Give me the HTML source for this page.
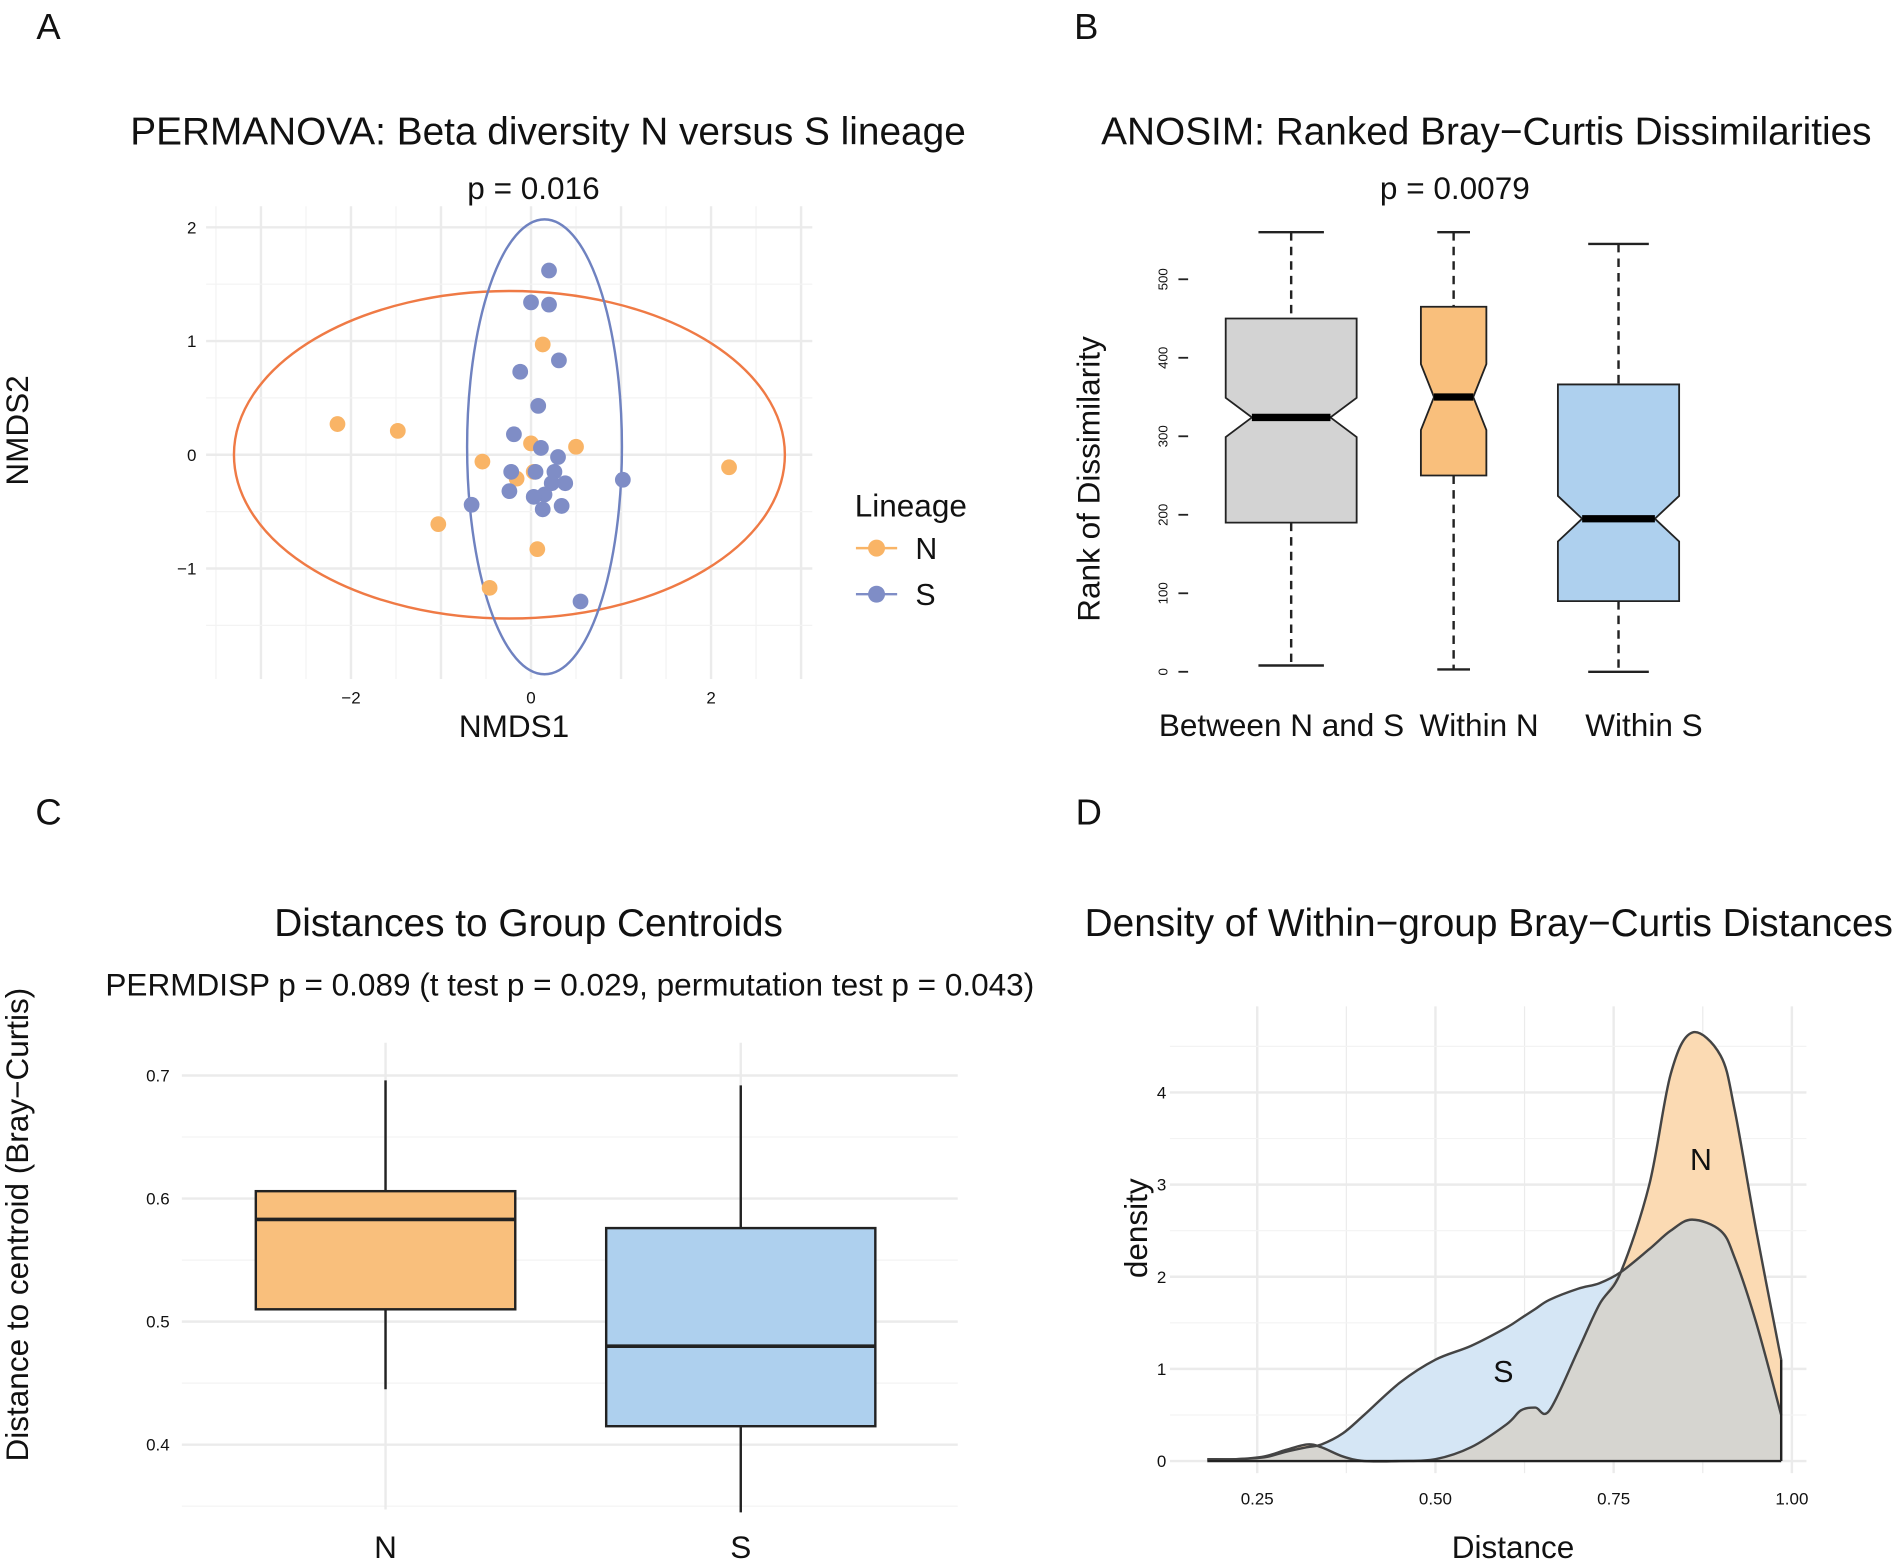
<!DOCTYPE html>
<html><head><meta charset="utf-8"><style>
html,body{margin:0;padding:0;background:#fff}
svg{display:block}
text{font-family:"Liberation Sans","DejaVu Sans",sans-serif;fill:#111}
</style></head><body>
<svg id="fig" width="1901" height="1563" viewBox="0 0 1568 1289" xmlns="http://www.w3.org/2000/svg">
<g id="A"></g>
<g id="B"></g>
<g id="C"></g>
<g id="D"></g>
</svg>
<script>
// ---- Panel A data ----
const nX=[-2.15,-1.48,-1.03,-0.54,-0.46,0,-0.16,0.07,0.13,0.5,2.2,0.03];
const nY=[0.27,0.21,-0.61,-0.06,-1.17,0.1,-0.21,-0.83,0.97,0.07,-0.11,-0.15];
const sX=[0.2,0,0.2,0.31,-0.12,0.08,-0.19,0.11,-0.22,0.05,0.26,0.3,0.23,0.38,-0.24,0.15,0.03,0.34,0.13,-0.66,1.02,0.55];
const sY=[1.62,1.34,1.32,0.83,0.73,0.43,0.18,0.06,-0.15,-0.15,-0.15,-0.02,-0.25,-0.25,-0.32,-0.35,-0.37,-0.45,-0.48,-0.44,-0.22,-1.29];
const aXTicks=[-2,0,2], aYTicks=[-1,0,1,2];
// ---- Panel B data ----
const bCats=["Between N and S","Within N","Within S"];
const bMin=[8,3,0], bQ1=[190,250,90], bMed=[324,350,195], bQ3=[450,465,366], bMax=[560,560,545];
const bNotch=[25,42,29];
const bTicks=[0,100,200,300,400,500];
// ---- Panel C data ----
const cCats=["N","S"];
const cMin=[0.445,0.345], cQ1=[0.51,0.415], cMed=[0.583,0.48], cQ3=[0.606,0.576], cMax=[0.696,0.692];
const cTicks=[0.4,0.5,0.6,0.7];
// ---- Panel D data ----
const dX=[0.18,0.22,0.26,0.29,0.32,0.34,0.37,0.40,0.45,0.5,0.55,0.6,0.62,0.64,0.66,0.7,0.73,0.76,0.8,0.83,0.86,0.9,0.92,0.95,0.985];
const dS=[0.02,0.02,0.04,0.1,0.15,0.18,0.3,0.5,0.85,1.1,1.25,1.45,1.55,1.65,1.75,1.87,1.93,2.05,2.3,2.5,2.62,2.5,2.2,1.5,0.5];
const dN=[0.02,0.02,0.05,0.12,0.18,0.15,0.05,0,0,0.02,0.15,0.4,0.55,0.58,0.55,1.2,1.7,2.05,3.0,4.2,4.65,4.4,3.8,2.5,1.1];
const dXTicks=[0.25,0.5,0.75,1.0], dYTicks=[0,1,2,3,4];

const NS="http://www.w3.org/2000/svg";
function el(p,tag,at,txt){const e=document.createElementNS(NS,tag);for(const k in at)e.setAttribute(k,at[k]);if(txt!==undefined)e.textContent=txt;p.appendChild(e);return e;}
const GRID="#ebebeb";
const TS=32, SS=26, LS=26;

// ===== Panel A =====
(function(){
const g=document.getElementById('A');
const x=v=>438+v*74.25, y=v=>375-v*93.8;
let t=el(g,'text',{x:40,y:32,'font-size':30,'text-anchor':'middle'},'A');

t=el(g,'text',{x:452,y:119,'font-size':TS,'text-anchor':'middle'},'PERMANOVA: Beta diversity N versus S lineage');

t=el(g,'text',{x:440,y:164,'font-size':SS,'text-anchor':'middle'},'p = 0.016');

for(let v=-3;v<=3;v+=1){el(g,'line',{x1:x(v),x2:x(v),y1:170,y2:560,stroke:GRID,'stroke-width':2});}
for(let v=-3;v<=3;v+=1){if(x(v-0.5)>170)el(g,'line',{x1:x(v-0.5),x2:x(v-0.5),y1:170,y2:560,stroke:'#f3f3f3','stroke-width':1});}
for(let v=-1.5;v<=2;v+=0.5){el(g,'line',{x1:170,x2:670,y1:y(v),y2:y(v),stroke:v%1===0?GRID:'#f3f3f3','stroke-width':v%1===0?2:1});}
aXTicks.forEach(v=>{const e=el(g,'text',{x:x(v),y:580,'font-size':14,'text-anchor':'middle',fill:'#444'},String(v).replace('-','−'));
});
aYTicks.forEach(v=>{const e=el(g,'text',{x:162,y:y(v)+5,'font-size':14,'text-anchor':'end',fill:'#444'},String(v).replace('-','−'));
});
t=el(g,'text',{x:424,y:608,'font-size':LS,'text-anchor':'middle'},'NMDS1');

t=el(g,'text',{x:0,y:0,'font-size':LS,'text-anchor':'middle',transform:'translate(23,355) rotate(-90)'},'NMDS2');

let e=el(g,'ellipse',{cx:x(-0.24),cy:y(0),rx:3.06*74.25,ry:1.44*93.8,fill:'none',stroke:'#ef7a45','stroke-width':2});

e=el(g,'ellipse',{cx:x(0.15),cy:y(0.07),rx:0.86*74.25,ry:2.0*93.8,fill:'none',stroke:'#6f82c0','stroke-width':2});

nX.forEach((v,i)=>{const c=el(g,'circle',{cx:x(v),cy:y(nY[i]),r:6.5,fill:'#f9b466'});
});
sX.forEach((v,i)=>{const c=el(g,'circle',{cx:x(v),cy:y(sY[i]),r:6.5,fill:'#7f8dc6'});
});
t=el(g,'text',{x:705,y:426,'font-size':26},'Lineage');

[['N','#f9b466','#f9b466',452],['S','#7f8dc6','#7f8dc6',490]].forEach(r=>{
const lg=el(g,'g',{});
el(lg,'line',{x1:706,x2:740,y1:r[3],y2:r[3],stroke:r[1],'stroke-width':2});
el(lg,'circle',{cx:723,cy:r[3],r:7,fill:r[2]});
el(lg,'text',{x:755,y:r[3]+9,'font-size':25},r[0]);});
})();

// ===== Panel B =====
(function(){
const g=document.getElementById('B');
const y=v=>554-v*0.6475; const cx=[1065,1199,1335], hw=[54,27,50];
let t=el(g,'text',{x:896,y:32,'font-size':30,'text-anchor':'middle'},'B');

t=el(g,'text',{x:1226,y:119,'font-size':TS,'text-anchor':'middle'},'ANOSIM: Ranked Bray−Curtis Dissimilarities');

t=el(g,'text',{x:1200,y:164,'font-size':SS,'text-anchor':'middle'},'p = 0.0079');

bTicks.forEach(v=>{el(g,'line',{x1:972,x2:980,y1:y(v),y2:y(v),stroke:'#222','stroke-width':1.5});
const e=el(g,'text',{x:0,y:0,'font-size':11,'text-anchor':'middle',fill:'#333',transform:`translate(963,${y(v)}) rotate(-90)`},String(v));
});
t=el(g,'text',{x:0,y:0,'font-size':LS,'text-anchor':'middle',transform:'translate(907,395) rotate(-90)'},'Rank of Dissimilarity');

const fills=['#d3d3d3','#f9bf7c','#aed0ee'];
bCats.forEach((c,i)=>{
const bg=el(g,'g',{});
const X=cx[i],w=hw[i];
const nh=bNotch[i]*0.6475, nw=w*0.6;
el(bg,'line',{x1:X,x2:X,y1:y(bMax[i]),y2:y(bQ3[i]),stroke:'#222','stroke-width':2,'stroke-dasharray':'7,5'});
el(bg,'line',{x1:X,x2:X,y1:y(bQ1[i]),y2:y(bMin[i]),stroke:'#222','stroke-width':2,'stroke-dasharray':'7,5'});
el(bg,'line',{x1:X-w/2,x2:X+w/2,y1:y(bMax[i]),y2:y(bMax[i]),stroke:'#222','stroke-width':2});
el(bg,'line',{x1:X-w/2,x2:X+w/2,y1:y(bMin[i]),y2:y(bMin[i]),stroke:'#222','stroke-width':2});
const m=y(bMed[i]);
const pts=[[X-w,y(bQ3[i])],[X+w,y(bQ3[i])],[X+w,m-nh],[X+nw,m],[X+w,m+nh],[X+w,y(bQ1[i])],[X-w,y(bQ1[i])],[X-w,m+nh],[X-nw,m],[X-w,m-nh]];
el(bg,'polygon',{points:pts.map(p=>p.join(',')).join(' '),fill:fills[i],stroke:'#222','stroke-width':1.5});
el(bg,'line',{x1:X-nw,x2:X+nw,y1:m,y2:m,stroke:'#000','stroke-width':6});
const lx=[1057,1220,1356][i];
const e=el(g,'text',{x:lx,y:607,'font-size':LS,'text-anchor':'middle'},c);

});
})();

// ===== Panel C =====
(function(){
const g=document.getElementById('C');
const y=v=>1090-(v-0.5)*1015; const cx=[318,611], hw=[107,111];
let t=el(g,'text',{x:40,y:680,'font-size':30,'text-anchor':'middle'},'C');

t=el(g,'text',{x:436,y:772,'font-size':TS,'text-anchor':'middle'},'Distances to Group Centroids');

t=el(g,'text',{x:470,y:821,'font-size':SS,'text-anchor':'middle'},'PERMDISP p = 0.089 (t test p = 0.029, permutation test p = 0.043)');

for(let v=0.35;v<=0.701;v+=0.05){const major=Math.abs(v*10-Math.round(v*10))<0.01;
el(g,'line',{x1:150,x2:790,y1:y(v),y2:y(v),stroke:major?GRID:'#f3f3f3','stroke-width':major?2:1});}
cx.forEach(X=>el(g,'line',{x1:X,x2:X,y1:860,y2:1245,stroke:GRID,'stroke-width':2}));
cTicks.forEach(v=>{const e=el(g,'text',{x:140,y:y(v)+5,'font-size':14,'text-anchor':'end',fill:'#444'},String(v));
});
t=el(g,'text',{x:0,y:0,'font-size':LS,'text-anchor':'middle',transform:'translate(23,1010) rotate(-90)'},'Distance to centroid (Bray−Curtis)');

const fills=['#f9bf7c','#aed0ee'];
cCats.forEach((c,i)=>{
const bg=el(g,'g',{});
const X=cx[i],w=hw[i];
el(bg,'line',{x1:X,x2:X,y1:y(cMax[i]),y2:y(cMin[i]),stroke:'#222','stroke-width':2});
el(bg,'rect',{x:X-w,y:y(cQ3[i]),width:2*w,height:y(cQ1[i])-y(cQ3[i]),fill:fills[i],stroke:'#222','stroke-width':2});
el(bg,'line',{x1:X-w,x2:X+w,y1:y(cMed[i]),y2:y(cMed[i]),stroke:'#222','stroke-width':3});
const e=el(g,'text',{x:X,y:1285,'font-size':LS,'text-anchor':'middle'},c);
});
})();

// ===== Panel D =====
(function(){
const g=document.getElementById('D');
const x=v=>1037+(v-0.25)*588, y=v=>1205-v*76;
let t=el(g,'text',{x:898,y:680,'font-size':30,'text-anchor':'middle'},'D');

t=el(g,'text',{x:1228,y:772,'font-size':TS,'text-anchor':'middle'},'Density of Within−group Bray−Curtis Distances');

for(let v=0.25;v<=1.001;v+=0.125){el(g,'line',{x1:x(v),x2:x(v),y1:830,y2:1215,stroke:GRID,'stroke-width':(Math.abs(v*4-Math.round(v*4))<0.01)?2:1});}
for(let v=0;v<=4.6;v+=0.5){el(g,'line',{x1:965,x2:1490,y1:y(v),y2:y(v),stroke:v%1===0?GRID:'#f3f3f3','stroke-width':v%1===0?2:1});}
dXTicks.forEach(v=>{const e=el(g,'text',{x:x(v),y:1241,'font-size':14,'text-anchor':'middle',fill:'#444'},v.toFixed(2));
});
dYTicks.forEach(v=>{const e=el(g,'text',{x:962,y:y(v)+5,'font-size':14,'text-anchor':'end',fill:'#444'},String(v));
});
t=el(g,'text',{x:1248,y:1285,'font-size':LS,'text-anchor':'middle'},'Distance');

t=el(g,'text',{x:0,y:0,'font-size':LS,'text-anchor':'middle',transform:'translate(946,1013) rotate(-90)'},'density');

function curve(ys){const p=dX.map((v,i)=>[x(v),y(ys[i])]);let d='M'+p[0].join(',');
for(let i=0;i<p.length-1;i++){const p0=p[Math.max(0,i-1)],p1=p[i],p2=p[i+1],p3=p[Math.min(p.length-1,i+2)];
const c1=[p1[0]+(p2[0]-p0[0])/6,p1[1]+(p2[1]-p0[1])/6],c2=[p2[0]-(p3[0]-p1[0])/6,p2[1]-(p3[1]-p1[1])/6];
d+=`C${c1.join(',')} ${c2.join(',')} ${p2.join(',')}`;}return d;}
const base=`L${x(dX[dX.length-1])},${y(0)} L${x(dX[0])},${y(0)} Z`;
const dmin=dS.map((v,i)=>Math.min(v,dN[i]));
let p=el(g,'path',{d:curve(dS)+base,fill:'#d5e6f5',stroke:'none'});

p=el(g,'path',{d:curve(dN)+base,fill:'#fbdab3',stroke:'none'});

p=el(g,'path',{d:curve(dmin)+base,fill:'#d6d5d0',stroke:'none'});

el(g,'path',{d:curve(dS),fill:'none',stroke:'#444','stroke-width':2});
el(g,'path',{d:curve(dN),fill:'none',stroke:'#444','stroke-width':2});
el(g,'line',{x1:x(dX[dX.length-1]),x2:x(dX[dX.length-1]),y1:y(dN[dN.length-1]),y2:y(0),stroke:'#222','stroke-width':2});
el(g,'line',{x1:x(dX[0]),x2:x(dX[dX.length-1]),y1:y(0),y2:y(0),stroke:'#222','stroke-width':2});
t=el(g,'text',{x:1403,y:965,'font-size':25,'text-anchor':'middle'},'N');

t=el(g,'text',{x:1240,y:1140,'font-size':25,'text-anchor':'middle'},'S');

})();
</script>
</body></html>
